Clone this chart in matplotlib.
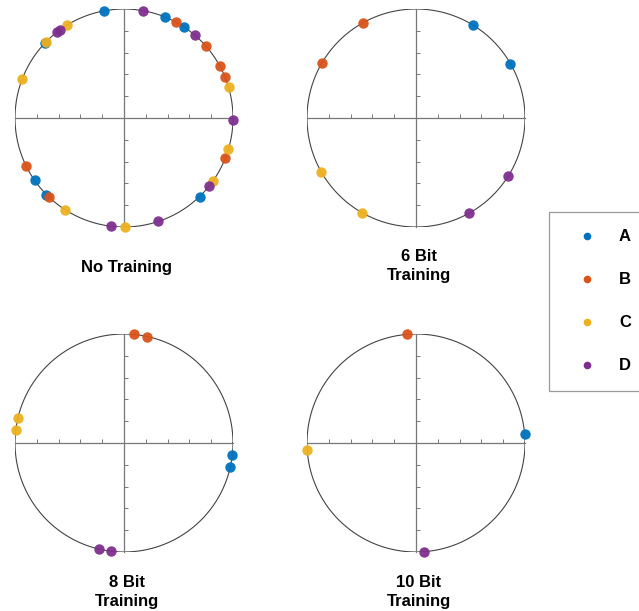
import matplotlib
matplotlib.use("Agg")
import matplotlib.pyplot as plt
from matplotlib.lines import Line2D
import numpy as np

plt.rcParams['font.family'] = ['Liberation Sans', 'DejaVu Sans']

classes = ['A', 'B', 'C', 'D']
colors = ['#0072BD', '#D95319', '#EDB120', '#7E2F8E']

# phase angles (degrees) of the unit-magnitude points, per class
no_training = {
    'A': [100.4, 67.8, 56.7, -46.1, 224.6, 214.9, 136.5],
    'B': [61.4, 41.6, 28.6, 22.2, -21.7, 226.4, 206.3],
    'C': [16.5, -16.6, -35.3, -89.6, 237.2, 159.3, 136.0, 121.7],
    'D': [79.8, 49.5, -1.2, -38.7, -71.7, 263.3, 125.8, 127.7],
}
bit6 = {
    'A': [58.4, 29.9],
    'B': [118.9, 149.5],
    'C': [209.8, 240.2],
    'D': [-32.3, -61.0],
}
bit8 = {
    'A': [-6.2, -12.5],
    'B': [84.9, 77.6],
    'C': [166.7, 173.2],
    'D': [256.5, 263.4],
}
bit10 = {
    'A': [4.6],
    'B': [94.5],
    'C': [183.7],
    'D': [274.1],
}

panels = [
    (no_training, 'No Training', (124, 118), 267),
    (bit6, '6 Bit\nTraining', (416, 118), 266),
    (bit8, '8 Bit\nTraining', (124, 443), 592),
    (bit10, '10 Bit\nTraining', (416, 443), 592),
]

W, H = 639, 611
R = 109
fig = plt.figure(figsize=(W / 100, H / 100), dpi=100)

ticks = [-0.8, -0.6, -0.4, -0.2, 0.2, 0.4, 0.6, 0.8]
theta = np.linspace(0, 2 * np.pi, 400)

for data, title, (cx, cy), ty in panels:
    ax = fig.add_axes([(cx - R) / W, 1 - (cy + R) / H, 2 * R / W, 2 * R / H])
    ax.plot(np.cos(theta), np.sin(theta), color='#444444', lw=0.8, zorder=2)
    for cls, col in zip(classes, colors):
        ang = np.radians(data[cls])
        ax.plot(np.cos(ang), np.sin(ang), 'o', color=col, ms=7.5,
                mec='none', alpha=0.95, clip_on=False, zorder=3)
    ax.set_xlim(-1, 1)
    ax.set_ylim(-1, 1)
    ax.set_aspect('equal')
    for s in ['top', 'right']:
        ax.spines[s].set_visible(False)
    for s in ['left', 'bottom']:
        ax.spines[s].set_position('zero')
        ax.spines[s].set_color('#777777')
        ax.spines[s].set_linewidth(0.9)
    ax.set_xticks(ticks)
    ax.set_yticks(ticks)
    ax.set_xticklabels([])
    ax.set_yticklabels([])
    ax.tick_params(direction='in', length=3, width=0.7, color='#777777')
    fig.text(cx / W + 0.004, 1 - ty / H, title, ha='center', va='center',
             fontsize=12, fontweight='bold', linespacing=1.3)

handles = [Line2D([], [], ls='none', marker='o', color=c, ms=5.5, mec='none')
           for c in colors]
leg = fig.legend(handles, classes, loc='upper left',
                 bbox_to_anchor=(549 / W, 1 - 212 / H),
                 prop={'weight': 'bold', 'size': 12}, frameon=True,
                 fancybox=False, edgecolor='#999999', labelspacing=1.68,
                 handlelength=2.4, handletextpad=0.75, borderpad=1.05,
                 borderaxespad=0, framealpha=1)
leg.get_frame().set_linewidth(0.9)

fig.savefig('out.png', dpi=100)
